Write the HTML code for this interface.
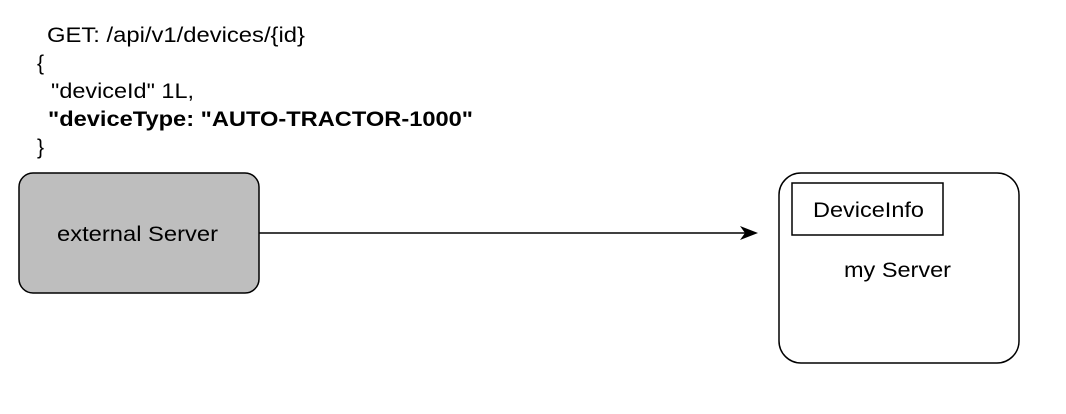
<!DOCTYPE html>
<html><head><style>body{margin:0;background:#fff}</style></head><body>
<svg width="1066" height="414" xmlns="http://www.w3.org/2000/svg" style="display:block;font-family:'Liberation Sans',Arial,sans-serif">
<g font-size="21" fill="#000">
<text x="47" y="42" textLength="258" lengthAdjust="spacingAndGlyphs">GET: /api/v1/devices/{id}</text>
<text x="37" y="70">{</text>
<text x="51" y="98" textLength="143" lengthAdjust="spacingAndGlyphs">"deviceId" 1L,</text>
<text x="48" y="126" font-weight="bold" textLength="425" lengthAdjust="spacingAndGlyphs">"deviceType: "AUTO-TRACTOR-1000"</text>
<text x="37" y="154">}</text>
<text x="57" y="241" textLength="161" lengthAdjust="spacingAndGlyphs">external Server</text>
<text x="813" y="217" textLength="111" lengthAdjust="spacingAndGlyphs">DeviceInfo</text>
<text x="844" y="277" textLength="107" lengthAdjust="spacingAndGlyphs">my Server</text>
</g>
<rect x="19" y="173" width="240" height="120" rx="14" fill="#bebebe" stroke="#000" stroke-width="1.5"/>
<text x="57" y="241" font-size="21" textLength="161" lengthAdjust="spacingAndGlyphs">external Server</text>
<line x1="259" y1="233" x2="748" y2="233" stroke="#000" stroke-width="1.5"/>
<polygon points="758,233 740,226 745,233 740,240" fill="#000"/>
<rect x="779" y="173" width="240" height="190" rx="22" fill="none" stroke="#000" stroke-width="1.5"/>
<rect x="792" y="183" width="151" height="52" fill="none" stroke="#000" stroke-width="1.5"/>
</svg>
</body></html>
